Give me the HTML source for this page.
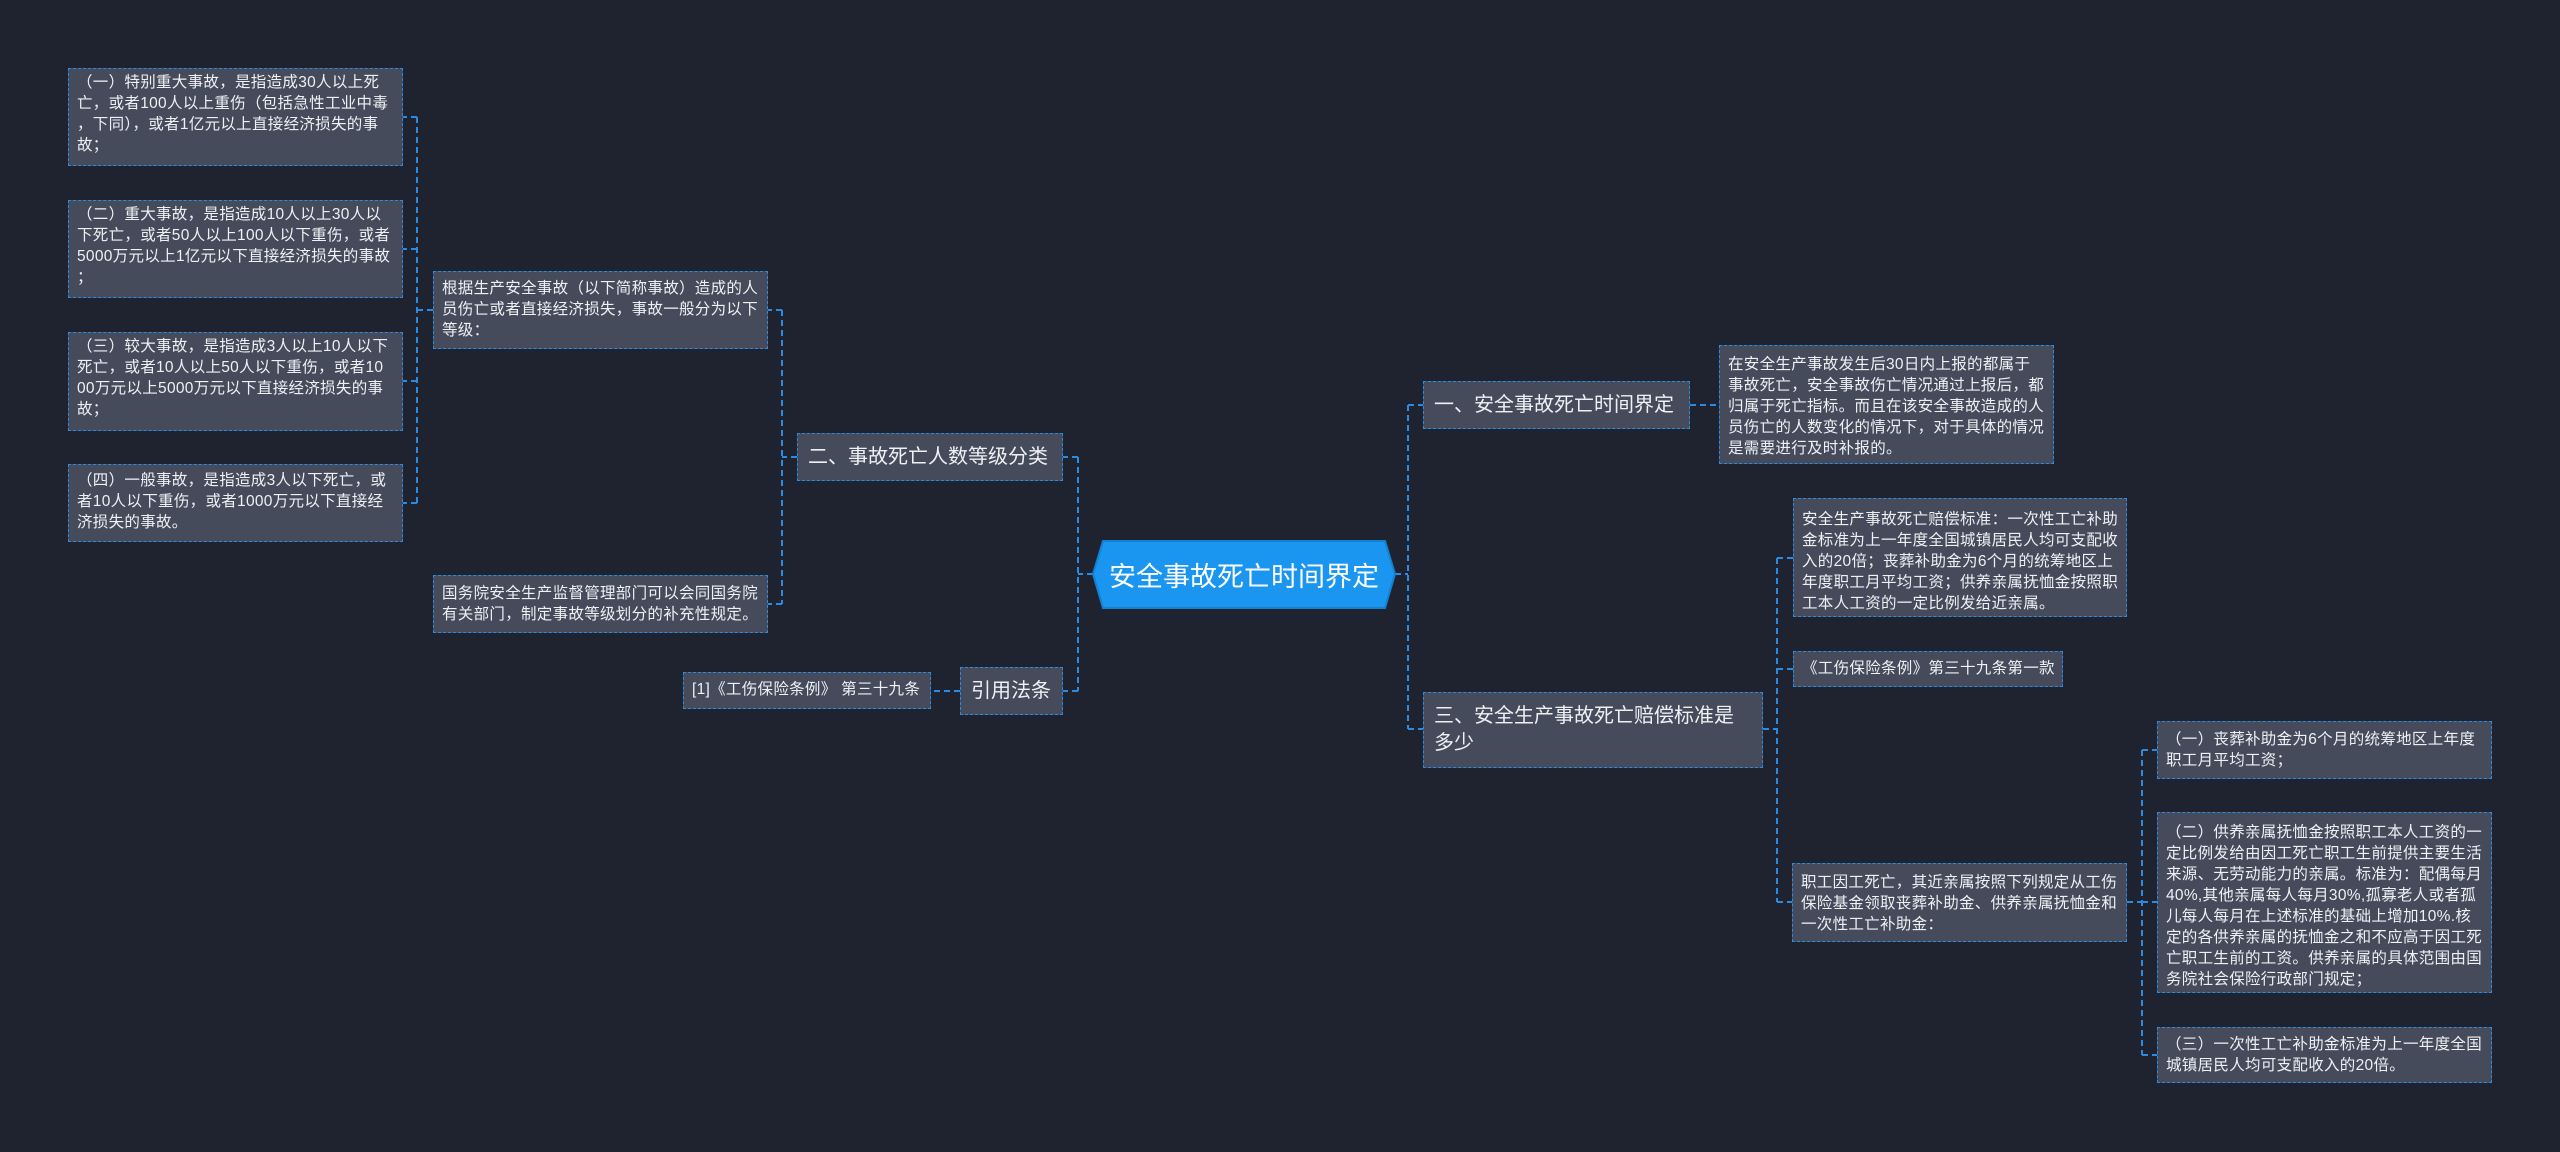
<!DOCTYPE html>
<html><head><meta charset="utf-8">
<style>
html,body{margin:0;padding:0;}
body{width:2560px;height:1152px;background:#1f2330;position:relative;overflow:hidden;font-family:"Liberation Sans","Noto Sans CJK SC",sans-serif;}
.b{position:absolute;box-sizing:border-box;background:#454b5b;border:1.5px dashed #2a8be0;color:#eef0f4;white-space:nowrap;}
.s{font-size:15.5px;letter-spacing:0.3px;line-height:21px;padding:3px 0 0 8px;}
.m{font-size:20px;letter-spacing:0px;line-height:27px;padding:0 0 0 10px;display:flex;align-items:center;}
svg{position:absolute;left:0;top:0;}
</style></head><body>
<svg width="2560" height="1152" fill="none" stroke="#2a8be0" stroke-width="2" stroke-dasharray="6,4">
<path d="M433 310H417M417 117V503M417 117H403M417 249H403M417 381H403M417 503H403"/>
<path d="M797 457H782M782 310V604M782 310H768M782 604H768"/>
<path d="M1093 574H1078M1078 457V691M1078 457H1063M1078 691H1063M960 691H931"/>
<path d="M1395 574H1408M1408 405V729M1408 405H1423M1408 729H1423M1690 405H1719"/>
<path d="M1763 729H1777M1777 558V902M1777 558H1793M1777 669H1793M1777 902H1792"/>
<path d="M2127 902H2142M2142 750V1055M2142 750H2157M2142 902H2157M2142 1055H2157"/>
</svg>

<div class="b s" style="left:68px;top:68px;width:335px;height:98px;">（一）特别重大事故，是指造成30人以上死<br>亡，或者100人以上重伤（包括急性工业中毒<br>，下同），或者1亿元以上直接经济损失的事<br>故；</div>
<div class="b s" style="left:68px;top:200px;width:335px;height:98px;">（二）重大事故，是指造成10人以上30人以<br>下死亡，或者50人以上100人以下重伤，或者<br>5000万元以上1亿元以下直接经济损失的事故<br>；</div>
<div class="b s" style="left:68px;top:332px;width:335px;height:99px;">（三）较大事故，是指造成3人以上10人以下<br>死亡，或者10人以上50人以下重伤，或者10<br>00万元以上5000万元以下直接经济损失的事<br>故；</div>
<div class="b s" style="left:68px;top:464px;width:335px;height:78px;padding-top:5px;">（四）一般事故，是指造成3人以下死亡，或<br>者10人以下重伤，或者1000万元以下直接经<br>济损失的事故。</div>

<div class="b s" style="left:433px;top:271px;width:335px;height:78px;padding-top:6px;">根据生产安全事故（以下简称事故）造成的人<br>员伤亡或者直接经济损失，事故一般分为以下<br>等级：</div>
<div class="b s" style="left:433px;top:575px;width:335px;height:58px;padding-top:7px;">国务院安全生产监督管理部门可以会同国务院<br>有关部门，制定事故等级划分的补充性规定。</div>

<div class="b m" style="left:797px;top:433px;width:266px;height:48px;">二、事故死亡人数等级分类</div>
<div class="b m" style="left:960px;top:667px;width:103px;height:48px;">引用法条</div>
<div class="b s" style="left:683px;top:672px;width:248px;height:37px;padding-top:6px;">[1]《工伤保险条例》 第三十九条</div>

<svg width="2560" height="1152">
<polygon points="1103,541 1385,541 1395,574 1385,608 1103,608 1093,574" fill="#1a96f0" stroke="#1480d0" stroke-width="2"/>
</svg>
<div style="position:absolute;left:1093px;top:541px;width:302px;height:67px;display:flex;align-items:center;justify-content:center;color:#fff;font-size:27px;white-space:nowrap;">安全事故死亡时间界定</div>

<div class="b m" style="left:1423px;top:381px;width:267px;height:48px;">一、安全事故死亡时间界定</div>
<div class="b s" style="left:1719px;top:345px;width:335px;height:119px;padding-top:8px;">在安全生产事故发生后30日内上报的都属于<br>事故死亡，安全事故伤亡情况通过上报后，都<br>归属于死亡指标。而且在该安全事故造成的人<br>员伤亡的人数变化的情况下，对于具体的情况<br>是需要进行及时补报的。</div>
<div class="b m" style="left:1423px;top:692px;width:340px;height:76px;">三、安全生产事故死亡赔偿标准是<br>多少</div>
<div class="b s" style="left:1793px;top:498px;width:334px;height:119px;padding-top:10px;">安全生产事故死亡赔偿标准：一次性工亡补助<br>金标准为上一年度全国城镇居民人均可支配收<br>入的20倍；丧葬补助金为6个月的统筹地区上<br>年度职工月平均工资；供养亲属抚恤金按照职<br>工本人工资的一定比例发给近亲属。</div>
<div class="b s" style="left:1793px;top:651px;width:270px;height:36px;padding-top:6px;">《工伤保险条例》第三十九条第一款</div>
<div class="b s" style="left:1792px;top:863px;width:335px;height:79px;padding-top:8px;">职工因工死亡，其近亲属按照下列规定从工伤<br>保险基金领取丧葬补助金、供养亲属抚恤金和<br>一次性工亡补助金：</div>
<div class="b s" style="left:2157px;top:721px;width:335px;height:58px;padding-top:7px;">（一）丧葬补助金为6个月的统筹地区上年度<br>职工月平均工资；</div>
<div class="b s" style="left:2157px;top:812px;width:335px;height:181px;padding-top:9px;">（二）供养亲属抚恤金按照职工本人工资的一<br>定比例发给由因工死亡职工生前提供主要生活<br>来源、无劳动能力的亲属。标准为：配偶每月<br>40%,其他亲属每人每月30%,孤寡老人或者孤<br>儿每人每月在上述标准的基础上增加10%.核<br>定的各供养亲属的抚恤金之和不应高于因工死<br>亡职工生前的工资。供养亲属的具体范围由国<br>务院社会保险行政部门规定；</div>
<div class="b s" style="left:2157px;top:1027px;width:335px;height:56px;padding-top:6px;">（三）一次性工亡补助金标准为上一年度全国<br>城镇居民人均可支配收入的20倍。</div>
</body></html>
